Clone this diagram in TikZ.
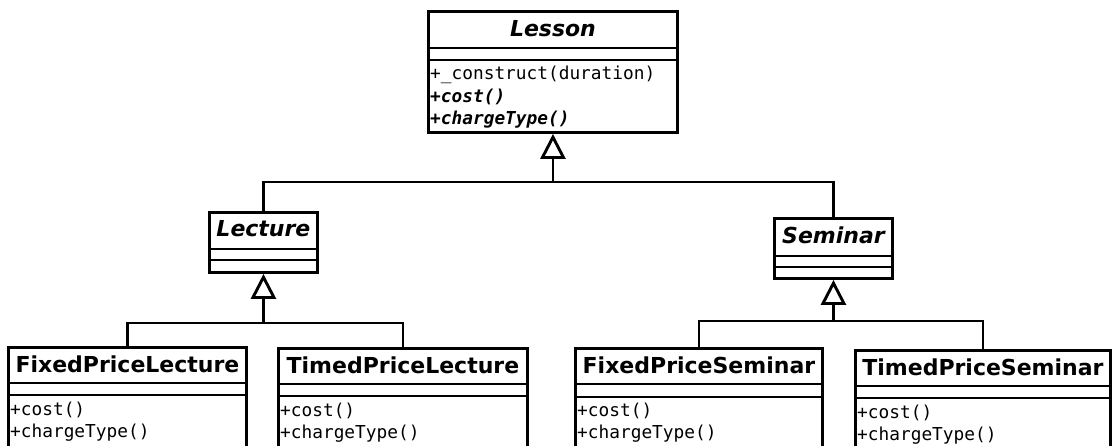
\documentclass[tikz,border=0pt]{standalone}
\usepackage{fontspec}
\setmainfont{DejaVu Sans}
\newfontfamily\monofont{DejaVu Sans Mono}
\usetikzlibrary{arrows.meta,calc}
\begin{document}
\begin{tikzpicture}[x=1pt,y=-1pt,
  classbox/.style={draw, line width=2.9pt, rectangle, inner sep=0pt, anchor=north west},
  sepline/.style={line width=2.9pt},
  classtitle/.style={font=\fontsize{22}{22}\selectfont\bfseries, anchor=base, inner sep=0pt},
  aclasstitle/.style={classtitle, font=\fontsize{22}{22}\selectfont\bfseries\itshape},
  meth/.style={font=\fontsize{17.8}{17.8}\selectfont\monofont, anchor=base west, inner sep=0pt},
  ameth/.style={meth, font=\fontsize{17.8}{17.8}\selectfont\monofont\bfseries\itshape},
  conn/.style={line width=2.9pt},
  gen/.style={conn, {Triangle[open, length=25pt, width=25pt]}-}
]
\useasboundingbox (0,0) rectangle (1115,445);
\clip (0,0) rectangle (1115,445);

% Lesson
\node[classbox, minimum width=249pt, minimum height=121pt] (lesson) at (427,10) {};
\draw[sepline] ($(lesson.north west)+(0,38)$) -- ($(lesson.north east)+(0,38)$);
\draw[sepline] ($(lesson.north west)+(0,50)$) -- ($(lesson.north east)+(0,50)$);
\node[aclasstitle] (lessonT) at ($(lesson.north)+(0,26.5)$) {Lesson};
\node[meth] (lessonM1) at ($(lesson.north west)+(3,69)$) {+\_construct(duration)};
\node[ameth] (lessonM2) at ($(lesson.north west)+(3,92)$) {+cost()};
\node[ameth] (lessonM3) at ($(lesson.north west)+(3,114)$) {+chargeType()};

% Lecture
\node[classbox, minimum width=108pt, minimum height=60pt] (lecture) at (208,211) {};
\draw[sepline] ($(lecture.north west)+(0,38)$) -- ($(lecture.north east)+(0,38)$);
\draw[sepline] ($(lecture.north west)+(0,49)$) -- ($(lecture.north east)+(0,49)$);
\node[aclasstitle] (lectureT) at ($(lecture.north)+(0,25)$) {Lecture};

% Seminar
\node[classbox, minimum width=118pt, minimum height=60pt] (seminar) at (773,217) {};
\draw[sepline] ($(seminar.north west)+(0,39)$) -- ($(seminar.north east)+(0,39)$);
\draw[sepline] ($(seminar.north west)+(0,50)$) -- ($(seminar.north east)+(0,50)$);
\node[aclasstitle] (seminarT) at ($(seminar.north)+(0,26)$) {Seminar};

% FixedPriceLecture
\node[classbox, minimum width=238pt, minimum height=110pt] (fpl) at (7,346) {};
\draw[sepline] ($(fpl.north west)+(0,37)$) -- ($(fpl.north east)+(0,37)$);
\draw[sepline] ($(fpl.north west)+(0,49)$) -- ($(fpl.north east)+(0,49)$);
\node[classtitle] (fplT) at ($(fpl.north)+(0,26)$) {FixedPriceLecture};
\node[meth] (fplM1) at ($(fpl.north west)+(3,69)$) {+cost()};
\node[meth] (fplM2) at ($(fpl.north west)+(3,91)$) {+chargeType()};

% TimedPriceLecture
\node[classbox, minimum width=249pt, minimum height=110pt] (tpl) at (277,347) {};
\draw[sepline] ($(tpl.north west)+(0,37)$) -- ($(tpl.north east)+(0,37)$);
\draw[sepline] ($(tpl.north west)+(0,49)$) -- ($(tpl.north east)+(0,49)$);
\node[classtitle] (tplT) at ($(tpl.north)+(0,26)$) {TimedPriceLecture};
\node[meth] (tplM1) at ($(tpl.north west)+(3,69)$) {+cost()};
\node[meth] (tplM2) at ($(tpl.north west)+(3,91)$) {+chargeType()};

% FixedPriceSeminar
\node[classbox, minimum width=247pt, minimum height=110pt] (fps) at (574,347) {};
\draw[sepline] ($(fps.north west)+(0,37)$) -- ($(fps.north east)+(0,37)$);
\draw[sepline] ($(fps.north west)+(0,50)$) -- ($(fps.north east)+(0,50)$);
\node[classtitle] (fpsT) at ($(fps.north)+(0,26)$) {FixedPriceSeminar};
\node[meth] (fpsM1) at ($(fps.north west)+(3,69)$) {+cost()};
\node[meth] (fpsM2) at ($(fps.north west)+(3,91)$) {+chargeType()};

% TimedPriceSeminar
\node[classbox, minimum width=255pt, minimum height=110pt] (tps) at (854,349) {};
\draw[sepline] ($(tps.north west)+(0,37)$) -- ($(tps.north east)+(0,37)$);
\draw[sepline] ($(tps.north west)+(0,49)$) -- ($(tps.north east)+(0,49)$);
\node[classtitle] (tpsT) at ($(tps.north)+(0,26)$) {TimedPriceSeminar};
\node[meth] (tpsM1) at ($(tps.north west)+(3,69)$) {+cost()};
\node[meth] (tpsM2) at ($(tps.north west)+(3,91)$) {+chargeType()};

% generalisation connectors
\coordinate (j0) at (lesson.south |- 0,182);
\draw[conn] (lecture.north) |- (j0) -| (seminar.north);
\draw[gen] (lesson.south) -- (j0);

\coordinate (j1) at (lecture.south |- 0,323);
\draw[conn] (fpl.north) |- (j1) -| (tpl.north);
\draw[gen] (lecture.south) -- (j1);

\coordinate (j2) at (seminar.south |- 0,321);
\draw[conn] (fps.north) |- (j2) -| (tps.north);
\draw[gen] (seminar.south) -- (j2);
\end{tikzpicture}
\end{document}
